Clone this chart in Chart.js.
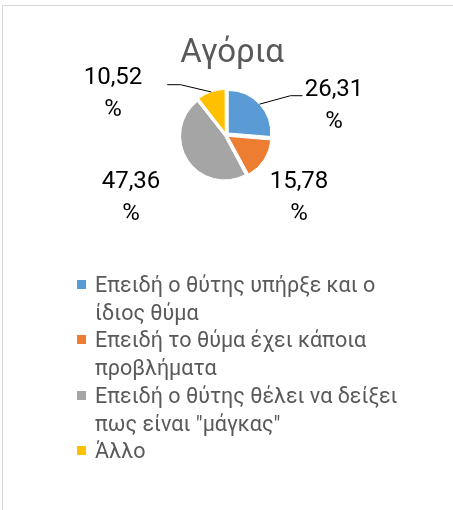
<!DOCTYPE html>
<html>
<head>
<meta charset="utf-8">
<script src="https://cdn.jsdelivr.net/npm/chart.js@4.4.1/dist/chart.umd.min.js"></script>
<style>
body{margin:0;background:#fff;}
#frame{position:absolute;left:2px;top:5px;width:470px;height:530px;border:1px solid #d9d9d9;}
#wrap{position:absolute;left:0;top:0;width:453px;height:510px;}
#legend{position:absolute;left:95px;top:271px;width:320px;font-family:Roboto,sans-serif;font-size:21.5px;line-height:27.7px;color:#595959;}
#legend .item{position:relative;}
#legend .box{position:absolute;left:-18px;top:9px;width:9px;height:9px;}
</style>
</head>
<body>
<div id="frame"></div>
<div id="wrap"><canvas id="chart"></canvas></div>
<div id="legend"></div>
<script>
const title = 'Αγόρια';
const categories = [
    'Επειδή ο θύτης υπήρξε και ο ίδιος θύμα',
    'Επειδή το θύμα έχει κάποια προβλήματα',
    'Επειδή ο θύτης θέλει να δείξει πως είναι "μάγκας"',
    'Άλλο'
];
const percents = [26.31, 15.78, 47.36, 10.52];
const colors = ['#5B9BD5', '#ED7D31', '#A5A5A5', '#FFC000'];

// label centres and leader lines, relative to the pie centre
const labelAt = [[108, -29], [73, 63], [-95, 63], [-113, -41]];
const leaders = [[[64.5, -39.3], [76.5, -39.3]], null, null, [[-45.5, -50.3], [-58.8, -50.3]]];

const pieText = {
    id: 'pieText',
    afterDatasetsDraw(chart){
        const ctx = chart.ctx;
        const arcs = chart.getDatasetMeta(0).data;
        const cx = arcs[0].x, cy = arcs[0].y;
        const r = arcs[0].outerRadius;
        ctx.save();
        ctx.fillStyle = '#595959';
        ctx.font = '33px Roboto';
        ctx.textAlign = 'center';
        ctx.textBaseline = 'alphabetic';
        ctx.fillText(title, 232, 62);

        ctx.strokeStyle = '#000';
        ctx.lineWidth = 1;
        arcs.forEach((a, i) => {
            if(!leaders[i]) return;
            const mid = (a.startAngle + a.endAngle) / 2;
            ctx.beginPath();
            ctx.moveTo(cx + Math.cos(mid) * (r + 3), cy + Math.sin(mid) * (r + 3));
            leaders[i].forEach(p => ctx.lineTo(cx + p[0], cy + p[1]));
            ctx.stroke();
        });

        ctx.fillStyle = '#000';
        ctx.font = '24px Roboto';
        ctx.textBaseline = 'middle';
        percents.forEach((v, i) => {
            const x = cx + labelAt[i][0], y = cy + labelAt[i][1];
            ctx.fillText(v.toFixed(2).replace('.', ','), x, y - 16);
            ctx.fillText('%', x, y + 16);
        });
        ctx.restore();
    }
};

new Chart(
    document.getElementById('chart'),
    {
        type: 'pie',
        data: {
            labels: categories,
            datasets: [
                {
                    data: percents,
                    backgroundColor: colors,
                    borderColor: '#fff',
                    borderWidth: 1,
                    offset: [12, 10, 7, 9],
                    radius: 42.5
                }
            ]
        },
        options: {
            responsive: true,
            maintainAspectRatio: false,
            animation: false,
            layout: {padding: {left: 0, right: 1, top: 35, bottom: 275}},
            plugins: {
                legend: {display: false},
                tooltip: {enabled: false}
            }
        },
        plugins: [pieText]
    }
);

const legend = document.getElementById('legend');
categories.forEach((c, i) => {
    const item = document.createElement('div');
    item.className = 'item';
    const box = document.createElement('span');
    box.className = 'box';
    box.style.background = colors[i];
    item.appendChild(box);
    item.appendChild(document.createTextNode(c));
    legend.appendChild(item);
});
</script>
</body>
</html>
